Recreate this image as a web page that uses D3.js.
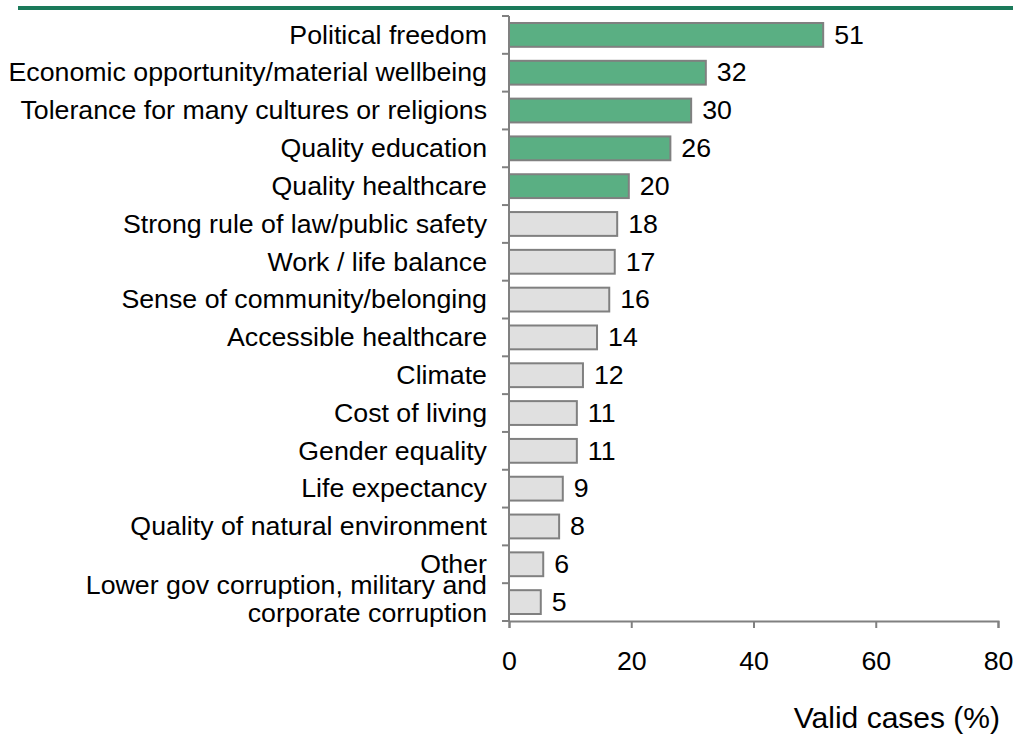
<!DOCTYPE html>
<html>
<head>
<meta charset="utf-8">
<script src="https://d3js.org/d3.v7.min.js"></script>
<style>
  body { margin: 0; background: #fff; }
  text { font-family: "Liberation Sans", Arial, sans-serif; fill: #000; }
</style>
</head>
<body>
<div id="chart"></div>
<script>
  // categories, top to bottom
  var categories = [
    "Political freedom",
    "Economic opportunity/material wellbeing",
    "Tolerance for many cultures or religions",
    "Quality education",
    "Quality healthcare",
    "Strong rule of law/public safety",
    "Work / life balance",
    "Sense of community/belonging",
    "Accessible healthcare",
    "Climate",
    "Cost of living",
    "Gender equality",
    "Life expectancy",
    "Quality of natural environment",
    "Other",
    "Lower gov corruption, military and|corporate corruption"
  ];
  var values = [51.4, 32.2, 29.8, 26.4, 19.6, 17.7, 17.3, 16.4, 14.4, 12.1, 11.1, 11.1, 8.8, 8.2, 5.6, 5.2];
  var highlighted = [true, true, true, true, true, false, false, false, false, false, false, false, false, false, false, false];
  var xTicks = [0, 20, 40, 60, 80];
  var axisTitle = "Valid cases (%)";

  var width = 1013, height = 735;
  var plotLeft = 509, plotRight = 998, plotTop = 16, plotBottom = 621;
  var stretch = 1.07; // the text in the picture is slightly wide

  var svg = d3.select("#chart").append("svg")
    .attr("width", width)
    .attr("height", height);

  // green rule on top
  svg.append("rect")
    .attr("x", 18).attr("y", 6)
    .attr("width", width - 18).attr("height", 4)
    .attr("fill", "#1b7a5a");

  var x = d3.scaleLinear().domain([0, 80]).range([plotLeft, plotRight]);
  var y = d3.scaleBand().domain(d3.range(categories.length)).range([plotTop, plotBottom]).paddingInner(0.37).paddingOuter(0.185);
  var band = d3.scaleBand().domain(d3.range(categories.length)).range([plotTop, plotBottom]);

  // bars
  svg.selectAll("rect.bar")
    .data(values)
    .enter().append("rect")
    .attr("class", "bar")
    .attr("x", x(0))
    .attr("y", function(d, i) { return y(i); })
    .attr("width", function(d) { return x(d) - x(0); })
    .attr("height", y.bandwidth())
    .attr("fill", function(d, i) { return highlighted[i] ? "#5aaf83" : "#e0e0e0"; })
    .attr("stroke", "#808080")
    .attr("stroke-width", 2);

  // value labels
  svg.selectAll("text.val")
    .data(values)
    .enter().append("text")
    .attr("class", "val")
    .attr("transform", function(d, i) {
      return "translate(" + (x(d) + 11) + "," + (band(i) + band.bandwidth() / 2) + ") scale(" + stretch + ",1)";
    })
    .attr("dy", "0.35em")
    .style("font-size", "25px")
    .text(function(d) { return Math.round(d); });

  // category labels
  var labels = svg.selectAll("text.cat")
    .data(categories)
    .enter().append("text")
    .attr("class", "cat")
    .attr("text-anchor", "end")
    .attr("transform", function(d, i) {
      return "translate(487," + (band(i) + band.bandwidth() / 2) + ") scale(" + stretch + ",1)";
    })
    .style("font-size", "25px");
  labels.each(function(d, i) {
    var parts = d.split("|");
    var t = d3.select(this);
    parts.forEach(function(p, k) {
      t.append("tspan")
        .attr("x", 0)
        .attr("y", (k - (parts.length - 1) / 2) * 28 - (parts.length - 1) * 3)
        .attr("dy", "0.35em")
        .text(p);
    });
  });

  // y axis line with ticks at band boundaries
  var yBounds = d3.range(categories.length + 1).map(function(i) { return plotTop + i * band.step(); });
  svg.append("line")
    .attr("x1", plotLeft).attr("x2", plotLeft)
    .attr("y1", plotTop).attr("y2", plotBottom)
    .attr("stroke", "#808080").attr("stroke-width", 2);
  svg.selectAll("line.ytick")
    .data(yBounds)
    .enter().append("line")
    .attr("class", "ytick")
    .attr("x1", plotLeft - 7).attr("x2", plotLeft)
    .attr("y1", function(d) { return d; }).attr("y2", function(d) { return d; })
    .attr("stroke", "#808080").attr("stroke-width", 2);

  // x axis
  var xAxis = d3.axisBottom(x).tickValues(xTicks).tickSize(7).tickPadding(24);
  var gx = svg.append("g")
    .attr("transform", "translate(0," + plotBottom + ")")
    .call(xAxis);
  gx.select(".domain").attr("stroke", "#808080").attr("stroke-width", 2);
  gx.selectAll(".tick line").attr("stroke", "#808080").attr("stroke-width", 2);
  gx.selectAll(".tick text")
    .attr("transform", "scale(" + stretch + ",1)")
    .style("font-size", "25px")
    .style("font-family", "'Liberation Sans', Arial, sans-serif")
    .attr("fill", "#000");

  svg.append("text")
    .attr("x", 1000)
    .attr("y", 728)
    .attr("text-anchor", "end")
    .style("font-size", "30px")
    .text(axisTitle);
</script>
</body>
</html>
